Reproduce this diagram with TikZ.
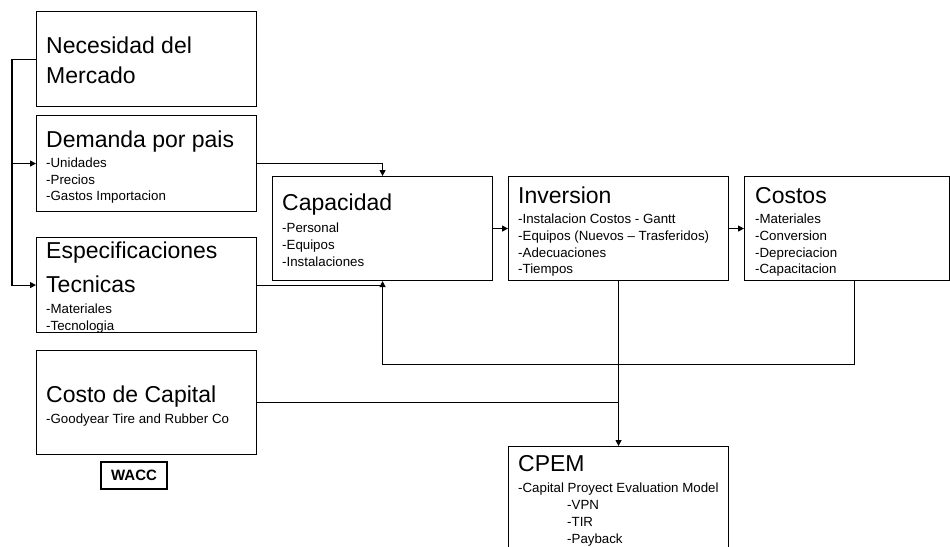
\documentclass[tikz,border=0pt]{standalone}
\usepackage{fontspec}
\setmainfont{Liberation Sans}
\usetikzlibrary{arrows.meta,calc}
\begin{document}
\begin{tikzpicture}[x=1pt,y=-1pt,
  box/.style={draw=black,line width=1.1pt,fill=white,rectangle,inner sep=0pt,anchor=north west},
  ttl/.style={anchor=base west,inner sep=0pt,font=\fontsize{23}{30}\selectfont},
  itm/.style={anchor=base west,inner sep=0pt,font=\fontsize{13.3}{17}\selectfont},
  conn/.style={line width=1.1pt,draw=black},
  arr/.style={conn,-{Triangle[length=6pt,width=6pt]}}
]
\clip (0,0) rectangle (950,546);
\fill[white] (0,0) rectangle (950,546);

% boxes
\node[box,minimum width=220pt,minimum height=95pt] (nec) at (36,11) {};
\node[box,minimum width=220pt,minimum height=96pt] (dem) at (36,115) {};
\node[box,minimum width=220pt,minimum height=95pt] (esp) at (36,237) {};
\node[box,minimum width=220pt,minimum height=104pt] (cdc) at (36,350) {};
\node[box,minimum width=220pt,minimum height=104pt] (cap) at (272,176) {};
\node[box,minimum width=220pt,minimum height=104pt] (inv) at (508,176) {};
\node[box,minimum width=205pt,minimum height=104pt] (cos) at (744,176) {};
\node[box,minimum width=220pt,minimum height=130pt] (cpem) at (508,446) {};
\node[draw=black,line width=1.1pt,inner sep=0pt,minimum width=66pt,minimum height=27pt,
      font=\fontsize{15}{18}\selectfont\bfseries] (wacc) at (134,475.5) {WACC};

% texts
\node[ttl] (t1a) at (46,53) {Necesidad del};
\node[ttl] (t1b) at (46,83) {Mercado};

\node[ttl] (t2) at (46,147) {Demanda por pais};
\node[itm] (t2a) at (46,167) {-Unidades};
\node[itm] (t2b) at (46,184) {-Precios};
\node[itm] (t2c) at (46,200) {-Gastos Importacion};

\node[ttl] (t3a) at (46,258) {Especificaciones};
\node[ttl] (t3b) at (46,292) {Tecnicas};
\node[itm] (t3c) at (46,313) {-Materiales};
\node[itm] (t3d) at (46,330) {-Tecnologia};

\node[ttl] (t4) at (46,402) {Costo de Capital};
\node[itm] (t4a) at (46,423) {-Goodyear Tire and Rubber Co};

\node[ttl] (t5) at (282,210) {Capacidad};
\node[itm] (t5a) at (282,232) {-Personal};
\node[itm] (t5b) at (282,249) {-Equipos};
\node[itm] (t5c) at (282,266) {-Instalaciones};

\node[ttl] (t6) at (518,203) {Inversion};
\node[itm] (t6a) at (518,223) {-Instalacion Costos - Gantt};
\node[itm] (t6b) at (518,240) {-Equipos (Nuevos – Trasferidos)};
\node[itm] (t6c) at (518,257) {-Adecuaciones};
\node[itm] (t6d) at (518,273) {-Tiempos};

\node[ttl] (t7) at (755,203) {Costos};
\node[itm] (t7a) at (755,223) {-Materiales};
\node[itm] (t7b) at (755,240) {-Conversion};
\node[itm] (t7c) at (755,257) {-Depreciacion};
\node[itm] (t7d) at (755,273) {-Capacitacion};

\node[ttl] (t8) at (518,471) {CPEM};
\node[itm] (t8a) at (518,492) {-Capital Proyect Evaluation Model};
\node[itm] (t8b) at (567,509) {-VPN};
\node[itm] (t8c) at (567,526) {-TIR};
\node[itm] (t8d) at (567,543) {-Payback};

% connectors
\coordinate (busTop) at ($(nec.west)+(-24,0)$);
\coordinate (busDem) at ($(dem.west)+(-24,0)$);
\draw[arr] (nec.west) -- (busTop) |- (esp.west);
\draw[arr] (busDem) -- (dem.west);

\draw[arr] (dem.east) -| (cap.north);
\coordinate (espJoin) at (esp.east -| cap.south);
\draw[conn] (esp.east) -- (espJoin);

\coordinate (cosDown) at ($(cos.south)+(7.5,83)$);
\draw[arr] ($(cos.south)+(7.5,0)$) -- (cosDown) -| (cap.south);

\draw[arr] (cap.east) -- (inv.west);
\draw[arr] (inv.east) -- (cos.west);

\draw[arr] (inv.south) -- (cpem.north);
\coordinate (cdcJoin) at (cdc.east -| inv.south);
\draw[conn] (cdc.east) -- (cdcJoin);
\end{tikzpicture}
\end{document}
